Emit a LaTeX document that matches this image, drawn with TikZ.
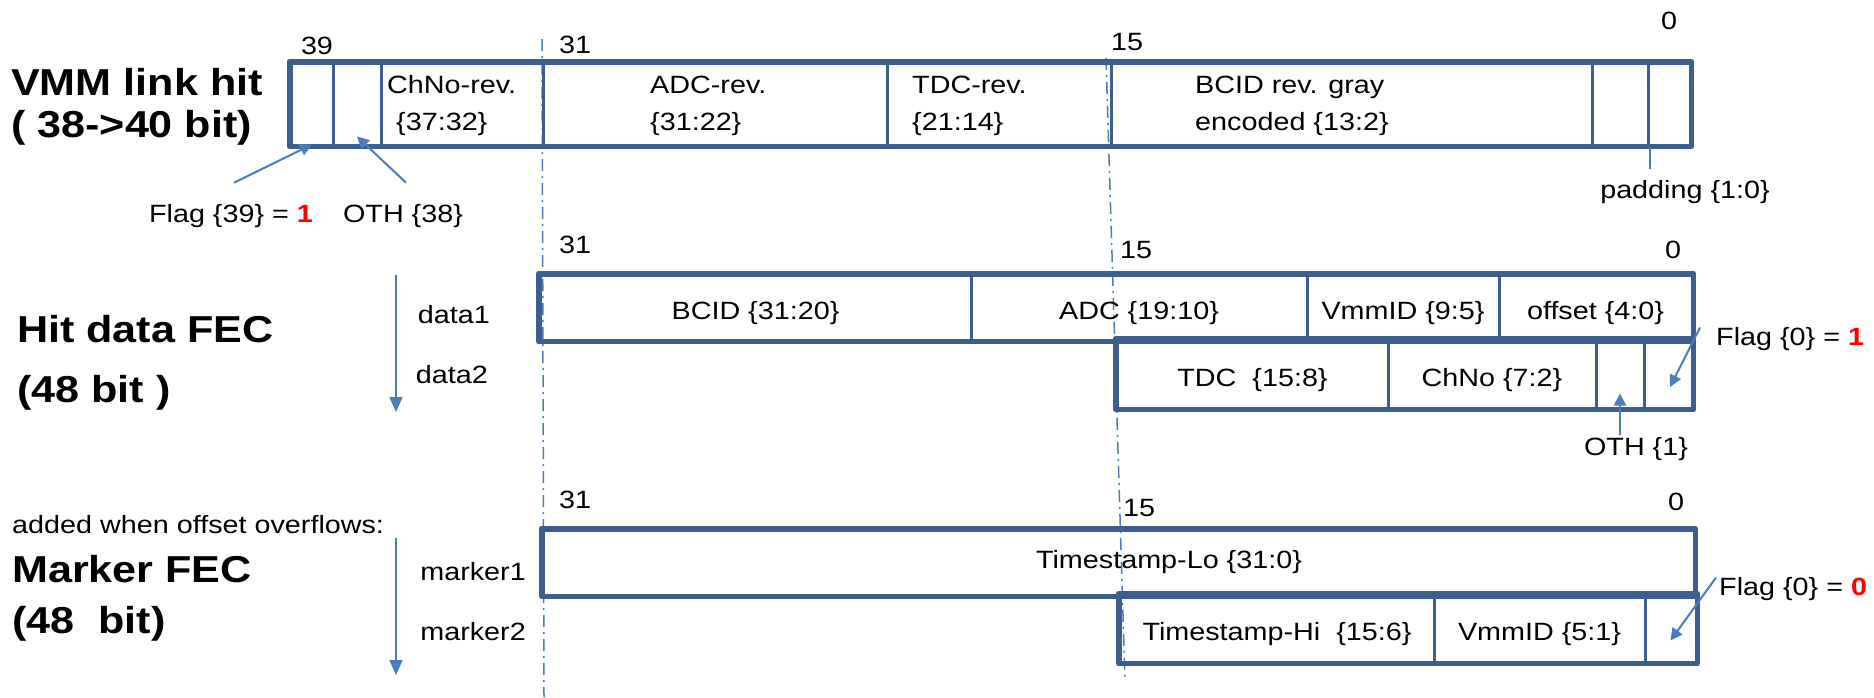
\documentclass[tikz,border=0pt]{standalone}
\usepackage{fontspec}
\setmainfont{Liberation Sans}[FakeStretch=1.15]
\usetikzlibrary{arrows.meta, calc}

\definecolor{framecol}{HTML}{3D5F8F}
\definecolor{pointcol}{HTML}{4A7EBB}

\newcommand{\fieldfont}{\fontsize{25}{37}\selectfont}
\newcommand{\headfont}{\fontsize{37.5}{42}\selectfont\bfseries}
\newcommand{\flagval}[1]{\textbf{\color{red}#1}}

\tikzset{
  field/.style={draw=framecol, line width=3pt, rectangle, inner sep=0pt, font=\fieldfont,
    text height=24pt, text depth=0pt},
  rowframe/.style={draw=framecol, line width=5pt, line join=round},
  lbl/.style={inner sep=2pt, font=\fieldfont},
  heading/.style={inner sep=0pt, font=\headfont, anchor=base west},
  pointer/.style={draw=pointcol, line width=2pt, -{Triangle[width=12pt,length=12pt]}},
  flow/.style={draw=pointcol, line width=2pt, -{Triangle[width=13pt,length=15pt]}},
  bitguide/.style={draw=pointcol, line width=1.5pt, dash pattern=on 12pt off 5pt on 2pt off 5pt},
}

\begin{document}
\begin{tikzpicture}[x=1pt, y=-1pt]
    \useasboundingbox (0,0) rectangle (1874,697);

    % bit 31 and bit 15 guides
    \coordinate (msbtop) at (542,39);
    \coordinate (msbend) at (544,697);
    \coordinate (lsbtop) at (1106,58);
    \coordinate (lsbend) at (1125,680);
    \draw[bitguide] (msbtop) -- (msbend);
    \draw[bitguide] (lsbtop) -- (lsbend);

    % titles
    \node[heading] (vmmtitle) at (11,95) {VMM link hit};
    \node[heading] (vmmwidth) at (11,137) {(\ 38->40 bit)};
    \node[heading] (hittitle) at (17,342) {Hit data FEC};
    \node[heading] (hitwidth) at (17,402) {(48 bit\ )};
    \node[lbl, anchor=base west, inner sep=0pt] (overflow) at (12,533) {added when offset overflows:};
    \node[heading] (marktitle) at (12,582) {Marker FEC};
    \node[heading] (markwidth) at (12,633) {(48\ \ bit)};

    % VMM link hit
    \node[field, minimum width=42, minimum height=82] (flag39) at (312,104) {};
    \node[field, minimum width=48, minimum height=82] (oth38) at (357,104) {};
    \node[field, minimum width=162, minimum height=82] (chnorev) at (462,104) {};
    \node[field, minimum width=344, minimum height=82] (adcrev) at (715,104) {};
    \node[field, minimum width=224, minimum height=82] (tdcrev) at (999,104) {};
    \node[field, minimum width=481, minimum height=82] (bcidrev) at (1351.5,104) {};
    \node[field, minimum width=56, minimum height=82] (pad1) at (1620,104) {};
    \node[field, minimum width=42, minimum height=82] (pad0) at (1669,104) {};
    \draw[rowframe] (flag39.north west) rectangle (pad0.south east);

    \node[lbl, anchor=west, align=left, inner sep=0pt] (chnotext) at (387,106) {ChNo-rev.\\\hspace*{9pt}\{37:32\}};
    \node[lbl, anchor=west, align=left, inner sep=0pt] (adctext) at (650,106) {ADC-rev.\\\{31:22\}};
    \node[lbl, anchor=west, align=left, inner sep=0pt] (tdctext) at (912,106) {TDC-rev.\\\{21:14\}};
    \node[lbl, anchor=west, align=left, inner sep=0pt] (bcidtext) at (1195,106) {BCID rev. gray\\encoded \{13:2\}};

    \node[lbl] (bit39) at (317,46) {39};
    \node[lbl] (vbit31) at (575,45) {31};
    \node[lbl] (vbit15) at (1127,42) {15};
    \node[lbl] (vbit0) at (1669,21) {0};

    \node[lbl, anchor=base] (flag39lbl) at (231,222) {Flag \{39\} = \flagval{1}};
    \node[lbl, anchor=base] (oth38lbl) at (403,222) {OTH \{38\}};
    \node[lbl, anchor=base] (padlbl) at (1685,198) {padding \{1:0\}};

    \draw[pointer] ([shift={(3pt,19pt)}]flag39lbl.north) -- ([yshift=2pt]flag39.south);
    \draw[pointer] ([shift={(3pt,19pt)}]oth38lbl.north) -- ([yshift=10pt]oth38.south);
    \draw[draw=pointcol, line width=2pt] (pad1.south east) -- ++(0,22);

    % Hit data FEC
    \node[field, minimum width=431, minimum height=65] (bcid) at (755.5,307.5) {BCID \{31:20\}};
    \node[field, minimum width=336, minimum height=65] (adc) at (1139,307.5) {ADC \{19:10\}};
    \node[field, minimum width=192, minimum height=65] (vmmid) at (1403,307.5) {VmmID \{9:5\}};
    \node[field, minimum width=193, minimum height=65] (offset) at (1595.5,307.5) {offset \{4:0\}};
    \node[field, minimum width=271, minimum height=68] (tdc) at (1252.5,374) {TDC\ \ \{15:8\}};
    \node[field, minimum width=208, minimum height=68] (chno) at (1492,374) {ChNo \{7:2\}};
    \node[field, minimum width=48, minimum height=68] (oth1) at (1620,374) {};
    \node[field, minimum width=48, minimum height=68] (flag0) at (1668,374) {};
    \draw[rowframe] (bcid.north west) rectangle (offset.south east);
    \draw[rowframe] (tdc.north west) rectangle (flag0.south east);

    \node[lbl] (hbit31) at (575,245) {31};
    \node[lbl] (hbit15) at (1136,250) {15};
    \node[lbl] (hbit0) at (1673,250) {0};

    \node[lbl, anchor=base east] (data1) at (492,323) {data1};
    \node[lbl, anchor=base east] (data2) at (490,383) {data2};
    \coordinate (hitflowtop) at (396,275);
    \coordinate (hitflowend) at (396,412);
    \draw[flow] (hitflowtop) -- (hitflowend);

    \node[lbl, anchor=base] (oth1lbl) at (1636,455) {OTH \{1\}};
    \node[lbl, anchor=base west] (flag0lbl) at (1714,345) {Flag \{0\} = \flagval{1}};
    \draw[pointer] (oth1.south |- oth1lbl.north) -- ([yshift=16pt]oth1.south);
    \draw[pointer] ([shift={(-14pt,11pt)}]flag0lbl.west) -- ([shift={(2pt,-13pt)}]flag0.center);

    % Marker FEC
    \node[field, minimum width=1151, minimum height=65] (tslo) at (1118.5,562.5) {};
    \node[field, minimum width=314, minimum height=67] (tshi) at (1277,628.5) {Timestamp-Hi\ \ \{15:6\}};
    \node[field, minimum width=211, minimum height=67] (mvmmid) at (1539.5,628.5) {VmmID \{5:1\}};
    \node[field, minimum width=51, minimum height=67] (mflag) at (1670.5,628.5) {};
    \draw[rowframe] (tslo.north west) rectangle (tslo.south east);
    \draw[rowframe] (tshi.north west) rectangle (mflag.south east);
    \node[lbl, anchor=base] (tslotext) at (1169,568) {Timestamp-Lo \{31:0\}};

    \node[lbl] (mbit31) at (575,500) {31};
    \node[lbl] (mbit15) at (1139,508) {15};
    \node[lbl] (mbit0) at (1676,502) {0};

    \node[lbl, anchor=base east] (marker1) at (528,580) {marker1};
    \node[lbl, anchor=base east] (marker2) at (528,640) {marker2};
    \coordinate (markflowtop) at (396,538);
    \coordinate (markflowend) at (396,675);
    \draw[flow] (markflowtop) -- (markflowend);

    \node[lbl, anchor=base west] (mflaglbl) at (1717,595) {Flag \{0\} = \flagval{0}};
    \draw[pointer] ([shift={(-1pt,11pt)}]mflaglbl.west) -- ([yshift=-12pt]mflag.center);
\end{tikzpicture}
\end{document}
